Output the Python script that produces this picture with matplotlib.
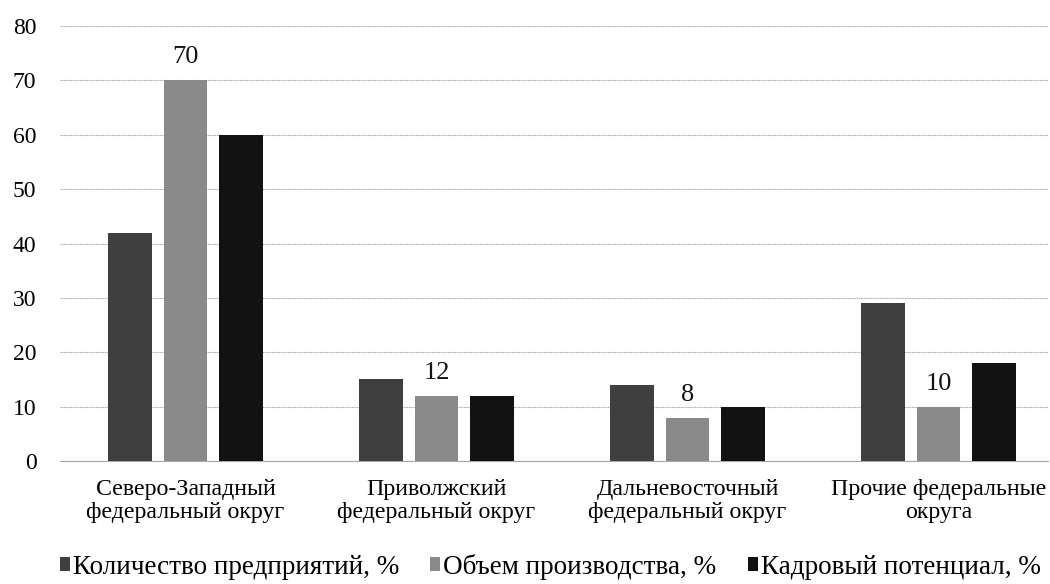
import matplotlib
matplotlib.use("Agg")
import matplotlib.pyplot as plt
import numpy as np

categories = ["Северо-Западный\nфедеральный округ", "Приволжский\nфедеральный округ",
              "Дальневосточный\nфедеральный округ", "Прочие федеральные\nокруга"]
series_names = ["Количество предприятий, %", "Объем производства, %", "Кадровый потенциал, %"]
enterprises = [42, 15, 14, 29]
production = [70, 12, 8, 10]
personnel = [60, 12, 10, 18]
yticks = [0, 10, 20, 30, 40, 50, 60, 70, 80]

colors = ["#3f3f3f", "#8a8a8a", "#121212"]

plt.rcParams['font.family'] = ['Liberation Serif', 'DejaVu Serif']

fig = plt.figure(figsize=(10.5, 5.84), dpi=100)
W, H = 1050, 584
left, right = 60, 1048
top, bottom = 26, 461
ax = fig.add_axes([left / W, 1 - bottom / H, (right - left) / W, (bottom - top) / H])

x = np.arange(len(categories))
bw = 0.175
off = 0.221
data = [enterprises, production, personnel]
bars = []
for i, (vals, c) in enumerate(zip(data, colors)):
    b = ax.bar(x + (i - 1) * off, vals, bw, color=c, label=series_names[i], zorder=3)
    bars.append(b)

for rect, v in zip(bars[1], production):
    ax.text(rect.get_x() + rect.get_width() / 2, v + 2.2, str(v), ha='center', va='bottom',
            fontsize=19, color='#111111')

ax.set_ylim(0, 80)
ax.set_xlim(-0.5, -0.5 + (right - left) / 251.0)
ax.set_yticks(yticks)
ax.tick_params(axis='y', labelsize=17, length=0, pad=17)
ax.set_xticks(x)
ax.set_xticklabels(categories, fontsize=17.2, linespacing=1.1)
ax.tick_params(axis='x', length=0, pad=13)
ax.grid(axis='y', color='#a8a8a8', linewidth=0.8, linestyle=(0, (1, 0.6)), zorder=0)
for s in ['top', 'right', 'left']:
    ax.spines[s].set_visible(False)
ax.spines['bottom'].set_color('#a8a8a8')
ax.spines['bottom'].set_linewidth(0.8)

fig.legend(handles=bars, labels=series_names, loc='lower center', bbox_to_anchor=(0.524, -0.025),
           ncol=3, frameon=False, fontsize=19.5, handlelength=0.37, handleheight=0.37,
           handletextpad=0.12, columnspacing=1.15, borderpad=0.2)

fig.savefig("out.png", dpi=100)
